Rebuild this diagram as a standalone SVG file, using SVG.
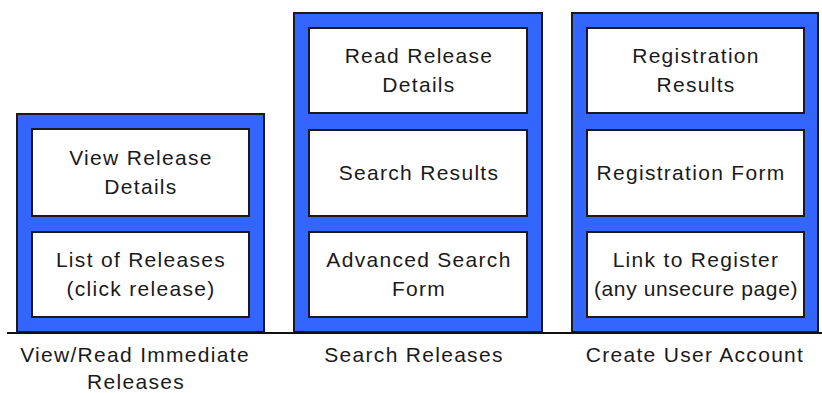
<svg xmlns="http://www.w3.org/2000/svg" width="822" height="393" viewBox="0 0 822 393">
<style>
.panel{fill:#3366ff;stroke:#1a1a1a;stroke-width:2}
.box{fill:#ffffff;stroke:#1a1a1a;stroke-width:2}
text{font-family:"Liberation Sans",Arial,sans-serif;font-size:21px;letter-spacing:1.3px;fill:#1a1a1a;text-anchor:middle}
.tight{letter-spacing:0.6px}
</style>
<rect width="822" height="393" fill="#ffffff"/>
<g id="panel-view">
<rect class="panel" x="17" y="114" width="247" height="218"/>
<g id="view-details"><rect class="box" x="32" y="129" width="217" height="87"/><text x="141" y="165">View Release</text><text x="141" y="194">Details</text></g>
<g id="list-releases"><rect class="box" x="32" y="232" width="217" height="85"/><text x="141" y="267">List of Releases</text><text x="141" y="296">(click release)</text></g>
</g>
<g id="panel-search">
<rect class="panel" x="294" y="13" width="248" height="319"/>
<g id="read-details"><rect class="box" x="309" y="28" width="218" height="85"/><text x="419" y="63">Read Release</text><text x="419" y="92">Details</text></g>
<g id="search-results"><rect class="box" x="309" y="130" width="218" height="86"/><text x="419" y="180">Search Results</text></g>
<g id="adv-search"><rect class="box" x="309" y="232" width="218" height="85"/><text x="419" y="267">Advanced Search</text><text x="419" y="296">Form</text></g>
</g>
<g id="panel-account">
<rect class="panel" x="572" y="13" width="246" height="319"/>
<g id="reg-results"><rect class="box" x="587" y="28" width="217" height="85"/><text x="696" y="63">Registration</text><text x="696" y="92">Results</text></g>
<g id="reg-form"><rect class="box" x="587" y="130" width="217" height="86"/><text x="691" y="180">Registration Form</text></g>
<g id="link-register"><rect class="box" x="587" y="232" width="217" height="85"/><text x="696" y="267">Link to Register</text><text class="tight" x="696" y="296">(any unsecure page)</text></g>
</g>
<g id="connectors">
<line x1="7" y1="333" x2="822" y2="333" stroke="#111" stroke-width="2"/>
</g>
<g id="labels">
<text x="135" y="362">View/Read Immediate</text>
<text x="136" y="389">Releases</text>
<text x="414" y="362">Search Releases</text>
<text x="695" y="362">Create User Account</text>
</g>
</svg>
